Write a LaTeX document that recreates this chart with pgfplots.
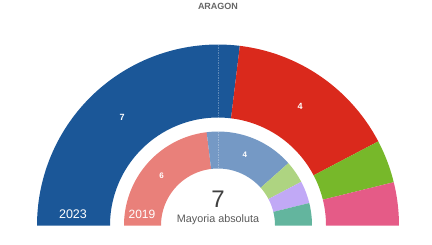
\documentclass[border=0pt]{standalone}
\usepackage{pgfplots}
\pgfplotsset{compat=1.18}
\usepackage{fontspec}
\setmainfont{Liberation Sans}
\definecolor{cPP}{HTML}{1B5798}
\definecolor{cPSOE}{HTML}{DA291C}
\definecolor{cVOX}{HTML}{77B82A}
\definecolor{cSUM}{HTML}{E55B87}
\definecolor{cPSOEl}{HTML}{E9807A}
\definecolor{cPPl}{HTML}{7599C5}
\definecolor{cVOXl}{HTML}{AED481}
\definecolor{cPODl}{HTML}{C1A9F6}
\definecolor{cTEl}{HTML}{63B59E}
\def\cx{218}
\def\cy{19}
% sector: #1 start seat, #2 end seat (of 13), #3 inner radius, #4 outer radius, #5 colour
\newcommand\sector[5]{%
 \pgfmathsetmacro\aA{180-#1*180/13}%
 \pgfmathsetmacro\aB{180-#2*180/13}%
 \edef\doplot{\noexpand\addplot[fill=#5, draw=none, domain=0:3, samples=181, variable=\noexpand\t]
  ({\cx+((\noexpand\t<=1)?#4:((\noexpand\t>=2)?#3:(#4-(\noexpand\t-1)*(#4-#3))))*cos((\noexpand\t<=1)?(\aA+\noexpand\t*(\aB-\aA)):((\noexpand\t>=2)?(\aB-(\noexpand\t-2)*(\aB-\aA)):\aB))},
   {\cy+((\noexpand\t<=1)?#4:((\noexpand\t>=2)?#3:(#4-(\noexpand\t-1)*(#4-#3))))*sin((\noexpand\t<=1)?(\aA+\noexpand\t*(\aB-\aA)):((\noexpand\t>=2)?(\aB-(\noexpand\t-2)*(\aB-\aA)):\aB))}) -- cycle;}%
 \doplot
}
% seat label at ring middle
\newcommand\seatlabel[5]{% #1 start, #2 end, #3 mid radius, #4 text, #5 font size
 \pgfmathsetmacro\am{180-(#1+#2)/2*180/13}%
 \pgfmathsetmacro\lx{\cx+#3*cos(\am)}%
 \pgfmathsetmacro\ly{\cy+#3*sin(\am)}%
 \edef\donode{\noexpand\node[text=white, font=\noexpand\fontsize{#5}{#5}\noexpand\selectfont\noexpand\bfseries] at (axis cs:\lx,\ly) {#4};}%
 \donode
}
\begin{document}
\begin{tikzpicture}
\begin{axis}[
  scale only axis, width=432pt, height=243pt,
  xmin=0, xmax=432, ymin=0, ymax=243,
  hide axis, clip=false]
\path (rel axis cs:0,0) rectangle (rel axis cs:1,1);
% 2023 (outer ring): 7, 4, 1, 1 seats
\sector{0}{7}{108}{181}{cPP}
\sector{7}{11}{108}{181}{cPSOE}
\sector{11}{12}{108}{181}{cVOX}
\sector{12}{13}{108}{181}{cSUM}
% 2019 (inner ring): 6, 4, 1, 1, 1 seats
\sector{0}{6}{57}{94}{cPSOEl}
\sector{6}{10}{57}{94}{cPPl}
\sector{10}{11}{57}{94}{cVOXl}
\sector{11}{12}{57}{94}{cPODl}
\sector{12}{13}{57}{94}{cTEl}
% majority line
\addplot[white, opacity=0.3, line width=0.9pt, dash pattern=on 1.5pt off 1pt] coordinates {(218,200) (218,127)};
\addplot[white, opacity=0.3, line width=0.9pt, dash pattern=on 1.5pt off 1pt] coordinates {(218,113) (218,77)};
\seatlabel{0}{7}{144.5}{7}{9}
\seatlabel{7}{11}{144.5}{4}{9}
\seatlabel{0}{6}{75.5}{6}{8}
\seatlabel{6}{10}{75.5}{4}{8}
\node[text=white, font=\fontsize{12.5}{14}\selectfont] at (axis cs:73,30) {2023};
\node[text=white, font=\fontsize{12}{14}\selectfont] at (axis cs:142,30) {2019};
\node[text=black!75, font=\fontsize{24}{26}\selectfont] at (axis cs:218,45) {7};
\node[text=black!65, font=\fontsize{10.8}{12}\selectfont] at (axis cs:218,25) {Mayoria absoluta};
\node[text=black!60, font=\fontsize{9}{10}\selectfont\bfseries] at (axis cs:218,238) {ARAGON};
\end{axis}
\end{tikzpicture}
\end{document}
